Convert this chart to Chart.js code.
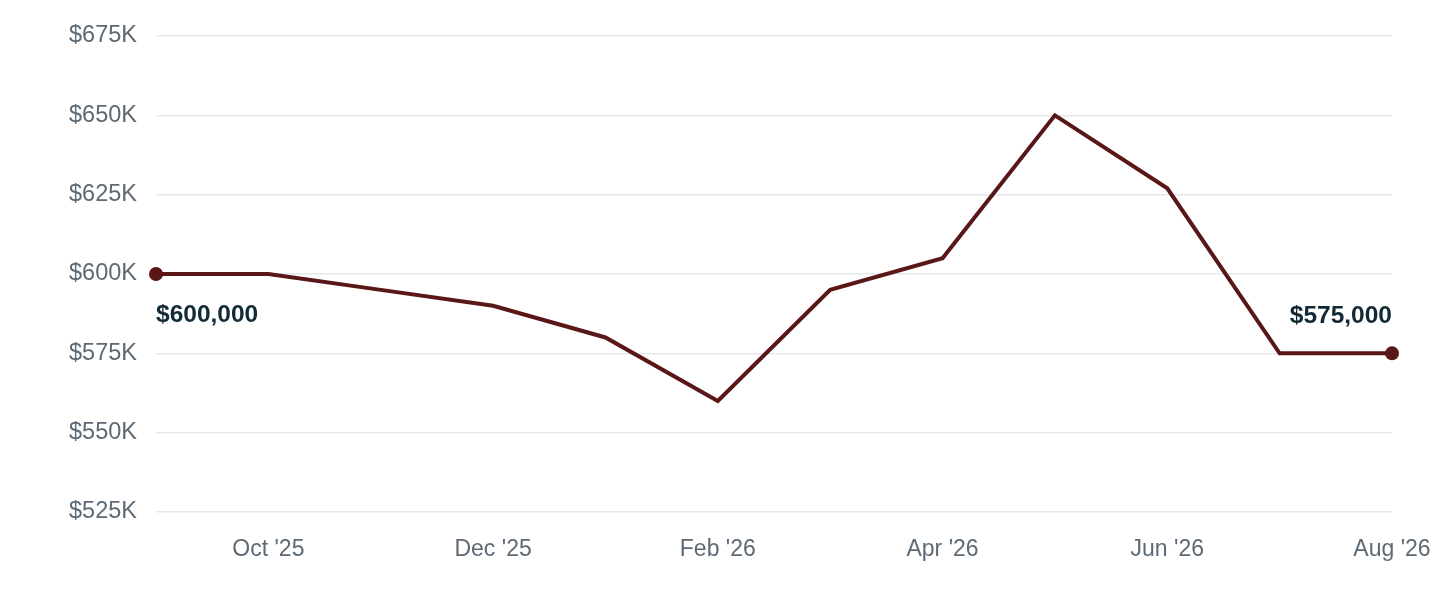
<!DOCTYPE html>
<html><head><meta charset="utf-8">
<script src="https://cdn.jsdelivr.net/npm/chart.js@4"></script>
<style>html,body{margin:0;padding:0;background:#fff}#wrap{width:1440px;height:600px}</style>
</head><body><div id="wrap"><canvas id="c" width="1440" height="600"></canvas></div>
<script>
const months = ["Sep '25","Oct '25","Nov '25","Dec '25","Jan '26","Feb '26","Mar '26","Apr '26","May '26","Jun '26","Jul '26","Aug '26"];
const prices = [600000,600000,595000,590000,580000,560000,595000,605000,650000,627000,575000,575000];
const yTicks = [525000,550000,575000,600000,625000,650000,675000];

const endLabels = {
  id:'endLabels',
  afterDatasetsDraw(chart){
    const ctx = chart.ctx; const meta = chart.getDatasetMeta(0);
    const first = meta.data[0], last = meta.data[meta.data.length-1];
    const fmt = v => '$' + v.toLocaleString('en-US');
    ctx.save();
    ctx.font = 'bold 24.5px "Liberation Sans", Arial, sans-serif';
    ctx.fillStyle = '#112a36';
    ctx.textBaseline = 'middle';
    ctx.textAlign = 'left';
    ctx.fillText(fmt(prices[0]), first.x, first.y + 41);
    ctx.textAlign = 'right';
    ctx.fillText(fmt(prices[prices.length-1]), last.x, last.y - 37);
    ctx.restore();
  }
};

new Chart(document.getElementById('c'), {
  type:'line',
  data:{labels:months, datasets:[{
    data:prices, borderColor:'#5a1717', backgroundColor:'#5a1717', borderWidth:4,
    pointRadius: prices.map((v,i)=> (i===0||i===prices.length-1)?7:0),
    pointHoverRadius:0, pointBackgroundColor:'#5a1717', pointBorderWidth:0,
    tension:0, clip:false
  }]},
  options:{
    responsive:false, animation:false, devicePixelRatio:1,
    layout:{padding:{top:36,right:48,left:0,bottom:0}},
    plugins:{legend:{display:false}, tooltip:{enabled:false}},
    scales:{
      x:{
        grid:{display:false}, border:{display:false},
        ticks:{autoSkip:false, maxRotation:0, padding:16, color:'#5d6a75',
          font:{size:23, family:'"Liberation Sans", Arial, sans-serif'},
          callback:(v,i)=> i%2===1 ? months[i] : ''},
        afterFit(s){ s.height = 88; s.paddingRight = 0; s.paddingLeft = 0; }
      },
      y:{
        min:525000, max:675000,
        grid:{color:'#e4e7ec', lineWidth:1.5, drawTicks:false}, border:{display:false},
        afterBuildTicks(s){ s.ticks = yTicks.map(v=>({value:v})); },
        ticks:{padding:19, color:'#5d6a75',
          font:{size:23.5, family:'"Liberation Sans", Arial, sans-serif'},
          callback:v=> '$' + (v/1000) + 'K'},
        afterFit(s){ s.width = 156; s.paddingTop = 0; s.paddingBottom = 0; }
      }
    }
  },
  plugins:[endLabels]
});
</script></body></html>
